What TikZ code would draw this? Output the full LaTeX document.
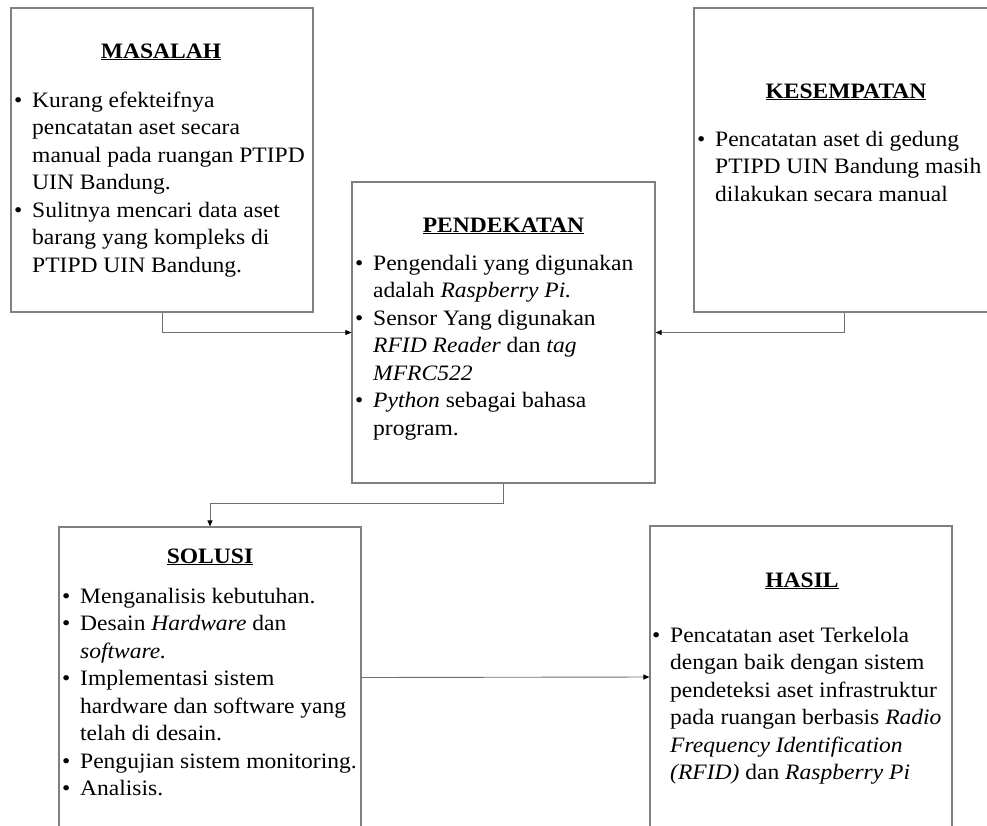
\documentclass[tikz,border=0pt]{standalone}
\usepackage{fontspec}
\setmainfont{Liberation Serif}[FakeStretch=1.07]
\usetikzlibrary{arrows.meta}
\definecolor{boxgray}{HTML}{808080}
\definecolor{linegray}{HTML}{707070}
\newcommand\BulLine[1]{\hbox{\makebox[18pt][l]{\textbullet}#1}}
\newcommand\ConLine[1]{\hbox{\hspace{18pt}#1}}
\newcommand\BodyText[1]{\vtop{\baselineskip=27.5pt\lineskiplimit=-30pt\lineskip=0pt #1}}
\newcommand\HeadText[1]{\underline{#1}}
\begin{document}
\begin{tikzpicture}[x=1pt,y=-1pt,
  box/.style={draw=boxgray,line width=1.2pt,rectangle,inner sep=0pt,minimum width=302pt,minimum height=302pt},
  head/.style={anchor=base,inner sep=0pt,font=\fontsize{22pt}{27.5pt}\selectfont\bfseries},
  body/.style={anchor=base west,inner sep=0pt,font=\fontsize{22pt}{27.5pt}\selectfont},
  conn/.style={draw=linegray,line width=0.9pt,-{Triangle[length=6pt,width=5pt,color=black]}}]
\useasboundingbox (0,0) rectangle (987,825);
\clip (0,0) rectangle (987,825);

% boxes
\node[box,minimum height=304pt] (mas) at (162,160) {};
\node[box,minimum width=301pt,minimum height=304pt] (kes) at (844.5,160) {};
\node[box,minimum width=303pt,minimum height=301pt] (pend) at (503.5,332.5) {};
\node[box,minimum height=301pt] (solu) at (210,677.5) {};
\node[box,minimum height=302pt] (has) at (801,677) {};

% headings
\node[head] (mash) at (161,58) {\HeadText{MASALAH}};
\node[head] (kesh) at (846,98) {\HeadText{KESEMPATAN}};
\node[head] (pendh) at (503.5,232) {\HeadText{PENDEKATAN}};
\node[head] (soluh) at (210,563) {\HeadText{SOLUSI}};
\node[head] (hash) at (802,587) {\HeadText{HASIL}};

% bodies
\node[body] (masb) at (14,107) {\BodyText{%
  \BulLine{Kurang efekteifnya}%
  \ConLine{pencatatan aset secara}%
  \ConLine{manual pada ruangan PTIPD}%
  \ConLine{UIN Bandung.}%
  \BulLine{Sulitnya mencari data aset}%
  \ConLine{barang yang kompleks di}%
  \ConLine{PTIPD UIN Bandung.}}};

\node[body] (kesb) at (697,146) {\BodyText{%
  \BulLine{Pencatatan aset di gedung}%
  \ConLine{PTIPD UIN Bandung masih}%
  \ConLine{dilakukan secara manual}}};

\node[body] (pendb) at (355,270) {\BodyText{%
  \BulLine{Pengendali yang digunakan}%
  \ConLine{adalah \textit{Raspberry Pi.}}%
  \BulLine{Sensor Yang digunakan}%
  \ConLine{\textit{RFID Reader} dan \textit{tag}}%
  \ConLine{\textit{MFRC522}}%
  \BulLine{\textit{Python} sebagai bahasa}%
  \ConLine{program.}}};

\node[body] (solub) at (62,603) {\BodyText{%
  \BulLine{Menganalisis kebutuhan.}%
  \BulLine{Desain \textit{Hardware} dan}%
  \ConLine{\textit{software.}}%
  \BulLine{Implementasi sistem}%
  \ConLine{hardware dan software yang}%
  \ConLine{telah di desain.}%
  \BulLine{Pengujian sistem monitoring.}%
  \BulLine{Analisis.}}};

\node[body] (hasb) at (652,642) {\BodyText{%
  \BulLine{Pencatatan aset Terkelola}%
  \ConLine{dengan baik dengan sistem}%
  \ConLine{pendeteksi aset infrastruktur}%
  \ConLine{pada ruangan berbasis \textit{Radio}}%
  \ConLine{\textit{Frequency Identification}}%
  \ConLine{\textit{(RFID)} dan \textit{Raspberry Pi}}}};

% connectors
\draw[conn] (mas.south) |- (pend.west);
\draw[conn] (kes.south) |- (pend.east);
\draw[conn] (pend.south) -- ++(0,20) -| (solu.north);
\draw[conn] (solu.east) -- (has.west);
\end{tikzpicture}
\end{document}
